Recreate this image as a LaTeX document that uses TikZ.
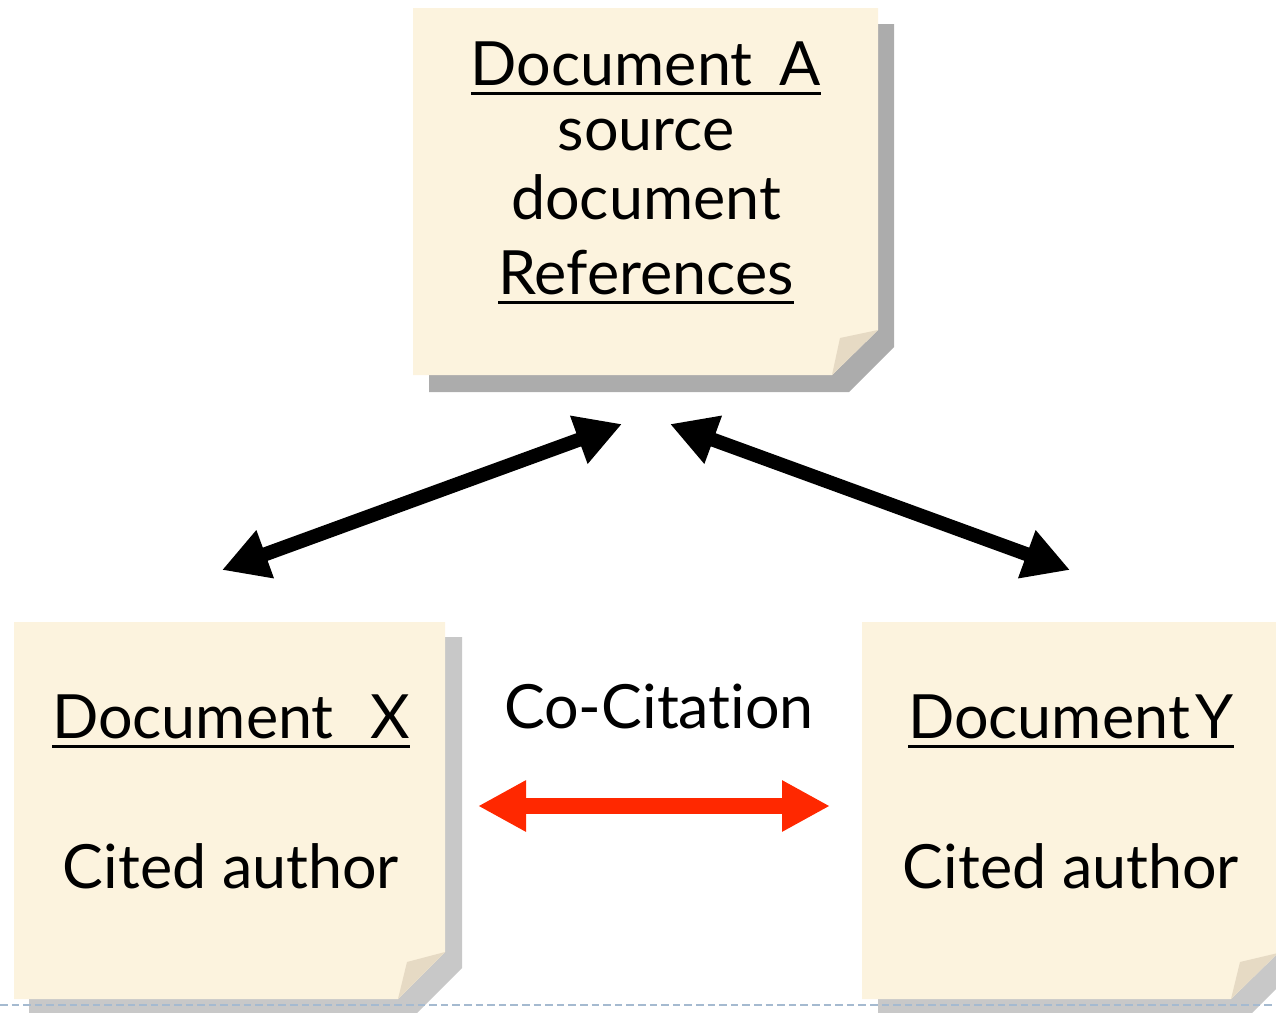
\documentclass[tikz,border=0pt]{standalone}
\usepackage{fontspec}
\setmainfont[Ligatures={NoCommon}]{Lato}
\usetikzlibrary{arrows.meta}
\definecolor{paper}{RGB}{252,243,222}
\definecolor{flap}{RGB}{230,218,196}
\definecolor{shadowA}{RGB}{172,172,172}
\definecolor{shadowB}{RGB}{200,200,200}
\definecolor{dashc}{RGB}{165,186,208}
\definecolor{cored}{RGB}{255,40,0}
\newcommand{\myul}[1]{\leavevmode\setbox0=\hbox{#1}\rlap{\rule[-5.2pt]{\wd0}{1.5pt}}\box0}
\tikzset{
  lbl/.style={anchor=base, inner sep=0pt, font=\fontsize{30.5}{37}\selectfont},
  papercol/.style={fill=paper, draw=none},
  flapcol/.style={fill=flap, draw=none},
  blackarr/.style={line width=7pt, {Triangle[length=23pt,width=24pt]}-{Triangle[length=23pt,width=24pt]}},
  redarr/.style={line width=8pt, cored, {Triangle[length=24pt,width=24pt]}-{Triangle[length=24pt,width=24pt]}},
}
\begin{document}
\begin{tikzpicture}[x=0.5pt,y=-0.5pt]
\useasboundingbox (0,0) rectangle (1276,1013);
\begin{scope}
\clip (0,0) rectangle (1276,1013);
% shadows
\fill[shadowA] (429,24) -- (894,24) -- (894,347) -- (849,392) -- (429,392) -- cycle;
\fill[shadowB] (29,637) -- (462,637) -- (462,968) -- (415,1015) -- (29,1015) -- cycle;
\fill[shadowB] (878,637) -- (1295,637) -- (1295,970) -- (1248,1017) -- (878,1017) -- cycle;
% dashed line
\draw[dashc, line width=1.4pt, dash pattern=on 3.8pt off 2pt] (0,1005) -- (1276,1005);
% papers
\path[papercol] (413,8) -- (878,8) -- (878,330) -- (832,375) -- (413,375) -- cycle;
\path[flapcol] (832,375) -- (840,338) -- (878,330) -- cycle;
\path[papercol] (14,622) -- (445,622) -- (445,952) -- (398,999) -- (14,999) -- cycle;
\path[flapcol] (398,999) -- (407,962) -- (445,952) -- cycle;
\path[papercol] (862,622) -- (1278,622) -- (1278,953) -- (1231,999) -- (862,999) -- cycle;
\path[flapcol] (1231,999) -- (1240,962) -- (1278,953) -- cycle;
\end{scope}
% texts
\node[lbl] (a1) at (646,85) {\myul{Document\hspace{0.45em}A}};
\node[lbl] (a2) at (646,150) {source};
\node[lbl] (a3) at (646,219) {document};
\node[lbl] (a4) at (646,294) {\myul{References}};
\node[lbl] (x1) at (231,738) {\myul{Document\hspace{0.6em}X}};
\node[lbl] (x2) at (231,888) {Cited author};
\node[lbl] (cc) at (659,728) {Co-Citation};
\node[lbl] (y1) at (1071,738) {\myul{Document\hspace{0.1em}Y}};
\node[lbl] (y2) at (1071,888) {Cited author};
% connectors
\coordinate (xa) at (222,570);
\coordinate (ax) at (622,424);
\coordinate (ay) at (670,424);
\coordinate (ya) at (1070,570);
\coordinate (xy) at (478,806);
\coordinate (yx) at (830,806);
\draw[blackarr] (xa) -- (ax);
\draw[blackarr] (ay) -- (ya);
\draw[redarr] (xy) -- (yx);
\end{tikzpicture}
\end{document}
